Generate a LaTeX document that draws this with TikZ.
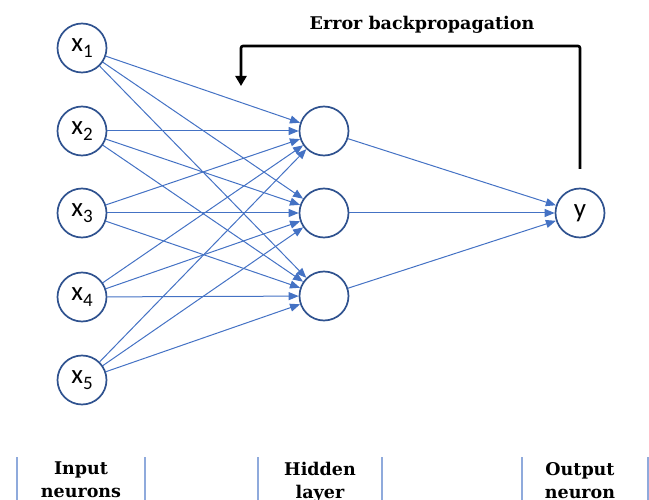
\documentclass[tikz,border=0pt]{standalone}
\usepackage{fontspec}
\usepackage{xcolor}
\usepackage{tikz}
\usetikzlibrary{shapes,arrows,positioning,calc,arrows.meta}
\setmainfont{DejaVu Serif}
\newfontfamily\calibri{Carlito}
\definecolor{edgeblue}{HTML}{4472C4}
\definecolor{ringblue}{HTML}{2F528F}
\definecolor{barblue}{HTML}{8FAADC}
\newcommand{\xin}[1]{x\raisebox{-0.45ex}{\fontsize{19}{19}\selectfont #1}}

\begin{document}
\begin{tikzpicture}[x=1pt, y=-1pt,
    neuron/.style={circle, draw=ringblue, line width=1.7pt, minimum size=49pt, inner sep=0pt, fill=white, font=\calibri\fontsize{27}{27}\selectfont},
    synapse/.style={edgeblue, line width=1pt, -{Triangle[length=10pt,width=8pt]}},
    layerbar/.style={barblue, line width=1.2pt},
    caption/.style={font=\bfseries\fontsize{17.5}{23}\selectfont, align=center, inner sep=0pt}]
    \useasboundingbox (0,0) rectangle (649,500);

    % Neurons
    \node[neuron] (x1) at (82,48) {\xin{1}};
    \node[neuron] (x2) at (82,131) {\xin{2}};
    \node[neuron] (x3) at (82,213) {\xin{3}};
    \node[neuron] (x4) at (82,297) {\xin{4}};
    \node[neuron] (x5) at (82,380) {\xin{5}};
    \node[neuron] (h1) at (324,131) {};
    \node[neuron] (h2) at (324,213) {};
    \node[neuron] (h3) at (324,296) {};
    \node[neuron] (y) at (580,213) {y};

    % Weights
    \foreach \i in {1,...,5}
        \foreach \j in {1,2,3}
            \draw[synapse] (x\i) -- (h\j);
    \foreach \j in {1,2,3}
        \draw[synapse] (h\j) -- (y);

    % Backpropagation
    \coordinate (bpstart) at (580,169);
    \coordinate (bpcorner) at (241,46);
    \coordinate (bpend) at (241,86);
    \draw[line width=2.6pt, rounded corners=2pt, -{Triangle[length=10pt,width=11pt]}] (bpstart) |- (bpcorner) -- (bpend);
    \node[caption, anchor=base] (bptext) at (422,30) {Error backpropagation};

    % Layers
    \node[caption, anchor=north] (incap) at (81,462) {Input\\neurons};
    \node[caption, anchor=north] (hidcap) at (320,462) {Hidden\\layer};
    \node[caption, anchor=north] (outcap) at (580,462) {Output\\neuron};
    \draw[layerbar] (17,457) -- (17,500);
    \draw[layerbar] (145,457) -- (145,500);
    \draw[layerbar] (258,457) -- (258,500);
    \draw[layerbar] (382,457) -- (382,500);
    \draw[layerbar] (522,457) -- (522,500);
    \draw[layerbar] (648,457) -- (648,500);
\end{tikzpicture}
\end{document}
